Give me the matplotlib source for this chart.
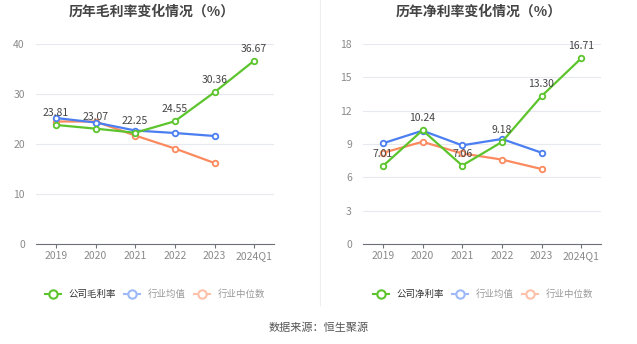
import matplotlib
matplotlib.use("Agg")
import matplotlib.pyplot as plt
from matplotlib.lines import Line2D
import numpy as np

plt.rcParams["font.family"] = ["Noto Sans CJK SC", "DejaVu Sans"]

years = ["2019", "2020", "2021", "2022", "2023", "2024Q1"]

gross_company = [23.81, 23.07, 22.25, 24.55, 30.36, 36.67]
gross_mean = [25.2, 24.3, 22.7, 22.2, 21.6]
gross_median = [24.5, 24.5, 21.7, 19.1, 16.2]

net_company = [7.01, 10.24, 7.06, 9.18, 13.30, 16.71]
net_mean = [9.06, 10.2, 8.88, 9.45, 8.22]
net_median = [8.2, 9.2, 8.15, 7.6, 6.75]

GREEN = "#5cc42c"
BLUE = "#4b7ef0"
ORANGE = "#fb8a5e"
GREEN_L = "#5cc42c"
BLUE_L = "#9db9f7"
ORANGE_L = "#fdc1a9"

W, H = 637, 344
fig = plt.figure(figsize=(W / 100, H / 100), dpi=100)


def draw_panel(x0, x1, title, company, mean, median, ymax, step, company_name, leg_cx):
    ax = fig.add_axes([x0 / W, (H - 244) / H, (x1 - x0) / W, 200 / H])
    x = np.arange(len(years))
    for vals, c in [(median, ORANGE), (mean, BLUE), (company, GREEN)]:
        ax.plot(x[:len(vals)], vals, color=c, lw=1.6, marker="o", ms=4,
                mfc="white", mec=c, mew=1.3, zorder=3)
    for xi, v in zip(x, company):
        ax.annotate(f"{v:.2f}", (xi, v), xytext=(0, 5), textcoords="offset points",
                    ha="center", va="bottom", fontsize=7.5, color="#444444", zorder=4)
    ax.set_xlim(-0.5, len(years) - 0.5)
    ax.set_ylim(0, ymax)
    ax.set_yticks(np.arange(0, ymax + 0.1, step))
    ax.set_xticks(x)
    ax.set_xticklabels(years)
    ax.grid(axis="y", color="#e6e9f0", lw=0.8)
    ax.set_axisbelow(True)
    for s in ["top", "right", "left"]:
        ax.spines[s].set_visible(False)
    ax.spines["bottom"].set_color("#6e7079")
    ax.tick_params(axis="y", length=0, labelsize=7.5, labelcolor="#8a8a8a", pad=8)
    ax.tick_params(axis="x", length=3, color="#6e7079", labelsize=7.5,
                   labelcolor="#8a8a8a", pad=2)
    fig.text((x0 + x1) / 2 / W - 0.005, 1 - 12 / H, title, ha="center", va="center",
             fontsize=10, fontweight="bold", color="#444444")
    handles = [
        Line2D([], [], color=GREEN_L, lw=1.5, marker="o", ms=6, mfc="white", mec=GREEN_L, mew=1.5),
        Line2D([], [], color=BLUE_L, lw=1.5, marker="o", ms=6, mfc="white", mec=BLUE_L, mew=1.5),
        Line2D([], [], color=ORANGE_L, lw=1.5, marker="o", ms=6, mfc="white", mec=ORANGE_L, mew=1.5),
    ]
    leg = fig.legend(handles, [company_name, "行业均值", "行业中位数"],
                     loc="center", bbox_to_anchor=(leg_cx / W, 1 - 294 / H),
                     ncol=3, frameon=False, fontsize=6.8, handlelength=1.7,
                     handletextpad=0.8, columnspacing=0.9, borderpad=0)
    for t, c in zip(leg.get_texts(), ["#333333", "#999999", "#999999"]):
        t.set_color(c)
    return ax


draw_panel(36, 274, "历年毛利率变化情况（%）", gross_company, gross_mean, gross_median,
           40, 10, "公司毛利率", 155)
draw_panel(363, 601, "历年净利率变化情况（%）", net_company, net_mean, net_median,
           18, 3, "公司净利率", 483)

fig.add_artist(Line2D([320 / W, 320 / W], [1 - 305 / H, 1.0], color="#eeeeee", lw=0.8))
fig.text(0.5, 1 - 328 / H, "数据来源：恒生聚源", ha="center", va="center",
         fontsize=8, color="#555555")

fig.savefig("out.png", dpi=100)
